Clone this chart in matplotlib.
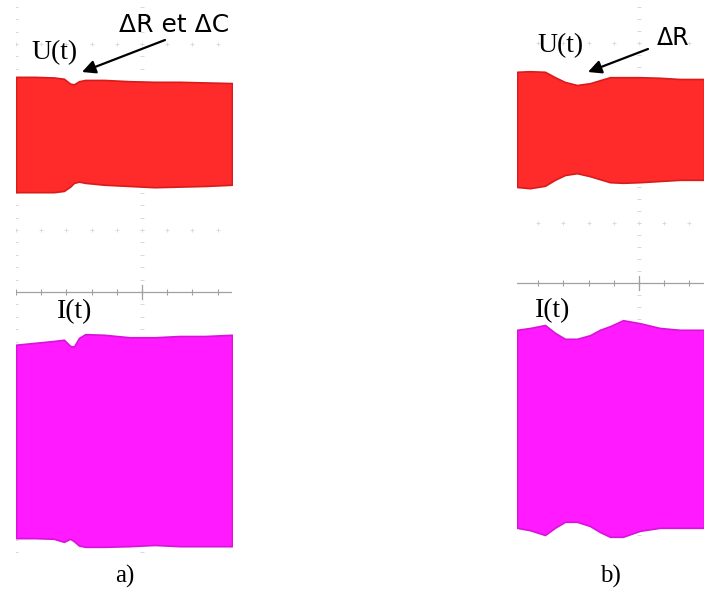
import matplotlib
matplotlib.use("Agg")
import matplotlib.pyplot as plt
import numpy as np

# ---------------- data (oscilloscope divisions) ----------------
# panel a) time (div) and envelopes (div)
t_a = [-1.00, -0.85, -0.70, -0.62, -0.57, -0.54, -0.50, -0.45, -0.30, -0.10, 0.10, 0.30, 0.50, 0.714]
u_a_hi = [3.47, 3.47, 3.46, 3.44, 3.36, 3.35, 3.40, 3.42, 3.42, 3.40, 3.39, 3.39, 3.38, 3.37]
u_a_lo = [1.61, 1.61, 1.61, 1.63, 1.70, 1.76, 1.78, 1.76, 1.73, 1.71, 1.69, 1.70, 1.71, 1.73]
i_a_hi = [-0.85, -0.82, -0.79, -0.77, -0.87, -0.88, -0.74, -0.68, -0.69, -0.73, -0.73, -0.71, -0.71, -0.69]
i_a_lo = [-3.97, -3.97, -3.98, -4.03, -3.98, -4.02, -4.09, -4.11, -4.11, -4.10, -4.08, -4.10, -4.10, -4.10]

# panel b)
t_b = [-0.968, -0.865, -0.746, -0.667, -0.587, -0.492, -0.389, -0.310, -0.230, -0.127, 0.008, 0.167, 0.325, 0.516]
u_b_hi = [3.52, 3.53, 3.52, 3.43, 3.35, 3.30, 3.33, 3.38, 3.43, 3.43, 3.43, 3.42, 3.40, 3.40]
u_b_lo = [1.60, 1.58, 1.62, 1.72, 1.80, 1.83, 1.78, 1.73, 1.68, 1.67, 1.68, 1.70, 1.72, 1.72]
i_b_hi = [-0.78, -0.75, -0.70, -0.83, -0.93, -0.93, -0.87, -0.78, -0.72, -0.62, -0.67, -0.75, -0.78, -0.78]
i_b_lo = [-4.08, -4.12, -4.20, -4.08, -3.98, -3.98, -4.05, -4.15, -4.23, -4.23, -4.13, -4.08, -4.08, -4.08]

labels_u = "U(t)"
labels_i = "I(t)"
annot_a = "ΔR et ΔC"
annot_b = "ΔR"
panel_names = ["a)", "b)"]

RED = "#ff2a2a"
MAG = "#ff1aff"

W, H = 704, 597
fig = plt.figure(figsize=(W / 100, H / 100), dpi=100)
fig.patch.set_facecolor("white")


def draw_grid(ax, xmin, xmax):
    gc = "#d8d8d8"
    xs = np.arange(-1.0, xmax + 1e-6, 0.2)
    xs = xs[xs >= xmin - 1e-6]
    for yy in (-3, -2, -1, 1, 2, 3, 4):
        ax.plot(xs, np.full(len(xs), yy), ls="none", marker="+", ms=3,
                mew=0.6, color=gc, zorder=1)
    ys = np.arange(-4.2, 4.7, 0.2)
    for xx in (-1.0, 0.0):
        if xmin - 1e-6 <= xx <= xmax:
            ax.plot(np.full(len(ys), xx), ys, ls="none", marker="_", ms=3,
                    mew=0.7, color=gc, zorder=1)
    ax.axhline(0, color="#a0a0a0", lw=0.9, zorder=1)
    ax.plot(xs, np.zeros(len(xs)), ls="none", marker="|", ms=5, mew=0.8,
            color="#a0a0a0", zorder=1)
    ax.plot([0, 0], [-0.12, 0.12], color="#a0a0a0", lw=0.9, zorder=1)


def panel(left_px, width_px, xlim, ylim, t, uh, ul, ih, il):
    ax = fig.add_axes([left_px / W, 0, width_px / W, 1])
    ax.set_xlim(*xlim)
    ax.set_ylim(*ylim)
    ax.axis("off")
    ax.patch.set_alpha(0)
    draw_grid(ax, xlim[0], xlim[1])
    ax.fill_between(t, ul, uh, color=RED, lw=1.2, edgecolor="#d81c1c", zorder=3)
    ax.fill_between(t, il, ih, color=MAG, lw=1.2, edgecolor="#d814d8", zorder=3)
    return ax


# panel a: axis line at 292 px from top, 62 px/div vertically, 126 px/div horizontally
ax_a = panel(16, 216, (-1.0, 0.714), (-305 / 62, 292 / 62),
             t_a, u_a_hi, u_a_lo, i_a_hi, i_a_lo)
# panel b: axis line at 283 px from top, 60 px/div vertically
ax_b = panel(517, 187, (-0.968, 0.516), (-314 / 60, 283 / 60),
             t_b, u_b_hi, u_b_lo, i_b_hi, i_b_lo)


def ftext(x, y, s, **kw):
    fig.text(x / W, 1 - y / H, s, **kw)


serif = "Liberation Serif"
ftext(55, 53, labels_u, fontsize=20, family=serif, ha="center", va="center")
ftext(75, 312, labels_i, fontsize=20, family=serif, ha="center", va="center")
ftext(561, 46, labels_u, fontsize=20, family=serif, ha="center", va="center")
ftext(553, 311, labels_i, fontsize=20, family=serif, ha="center", va="center")
ftext(125, 576, panel_names[0], fontsize=18, family=serif, ha="center", va="center")
ftext(610, 576, panel_names[1], fontsize=18, family=serif, ha="center", va="center")

ftext(174, 25, annot_a, fontsize=18, family="DejaVu Sans", ha="center", va="center")
ftext(657, 38, annot_b, fontsize=17, family="DejaVu Sans", ha="left", va="center")

arrow = dict(arrowstyle="-|>", color="black", lw=1.6, mutation_scale=20,
             shrinkA=0, shrinkB=0)
ax_a.annotate("", xy=(82, H - 72), xytext=(165, H - 40),
              xycoords="figure pixels", textcoords="figure pixels",
              arrowprops=arrow, annotation_clip=False)
ax_b.annotate("", xy=(588, H - 72), xytext=(648, H - 49),
              xycoords="figure pixels", textcoords="figure pixels",
              arrowprops=arrow, annotation_clip=False)

fig.savefig("out.png", dpi=100)
